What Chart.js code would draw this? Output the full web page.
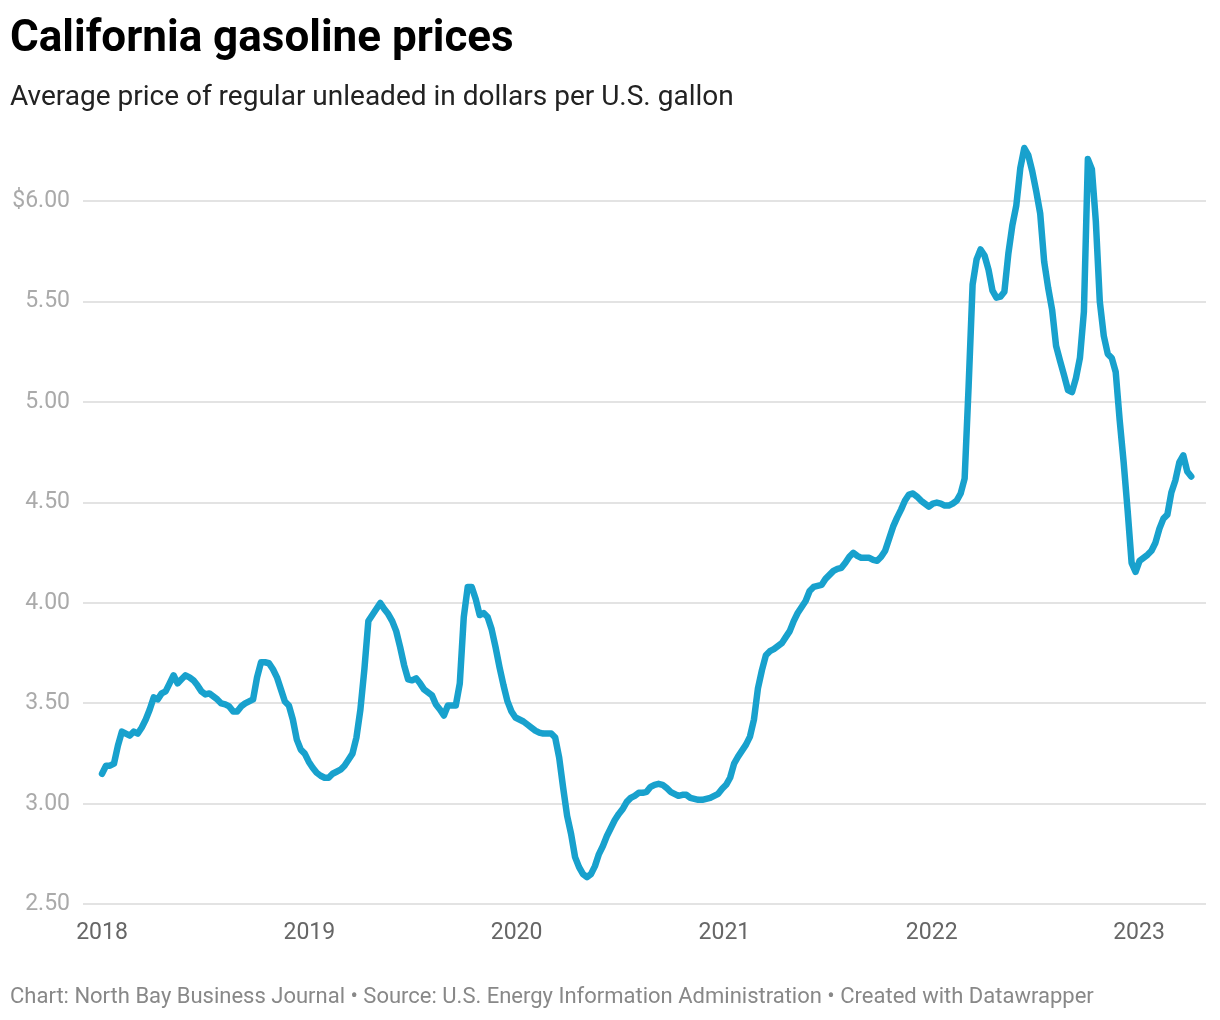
<!DOCTYPE html>
<html>
<head>
<meta charset="utf-8">
<script src="https://cdn.jsdelivr.net/npm/chart.js@4"></script>
<style>
  html, body { margin: 0; padding: 0; background: #fff; }
  body { width: 1220px; height: 1020px; position: relative; overflow: hidden; font-family: Roboto, "Noto Sans", sans-serif; }
  #title { position: absolute; left: 10px; top: 10px; font-size: 44px; font-weight: 700; color: #000; line-height: 1.2; white-space: nowrap; }
  #subtitle { position: absolute; left: 10px; top: 79px; font-size: 28px; color: #222; line-height: 1.2; white-space: nowrap; }
  #footer { position: absolute; left: 10px; top: 983px; font-size: 22px; color: #888; line-height: 1.2; white-space: nowrap; }
  #wrap { position: absolute; left: 0; top: 0; width: 1220px; height: 1020px; }
</style>
</head>
<body>
<div id="wrap"><canvas id="c" width="1220" height="1020"></canvas></div>
<div id="title">California gasoline prices</div>
<div id="subtitle">Average price of regular unleaded in dollars per U.S. gallon</div>
<div id="footer">Chart: North Bay Business Journal • Source: U.S. Energy Information Administration • Created with Datawrapper</div>
<script>
// Weekly series starting Monday, Jan 1, 2018
const startDate = "2018-01-01";
const prices = [
  3.15, 3.19, 3.19, 3.20, 3.29, 3.36, 3.35, 3.34, 3.36, 3.35,
  3.38, 3.42, 3.47, 3.53, 3.52, 3.55, 3.56, 3.60, 3.64, 3.60,
  3.62, 3.64, 3.63, 3.615, 3.59, 3.56, 3.545, 3.55, 3.535, 3.52,
  3.50, 3.495, 3.485, 3.46, 3.46, 3.485, 3.50, 3.51, 3.52, 3.63,
  3.705, 3.705, 3.70, 3.67, 3.63, 3.57, 3.51, 3.49, 3.42, 3.32,
  3.27, 3.25, 3.21, 3.18, 3.155, 3.14, 3.13, 3.13, 3.15, 3.16,
  3.17, 3.19, 3.22, 3.25, 3.33, 3.47, 3.67, 3.91, 3.94, 3.97,
  4.00, 3.97, 3.945, 3.91, 3.86, 3.78, 3.69, 3.62, 3.615, 3.625,
  3.60, 3.57, 3.555, 3.54, 3.495, 3.47, 3.44, 3.49, 3.49, 3.49,
  3.60, 3.93, 4.08, 4.08, 4.02, 3.94, 3.95, 3.93, 3.87, 3.78,
  3.68, 3.59, 3.51, 3.46, 3.43, 3.42, 3.41, 3.395, 3.38, 3.365,
  3.355, 3.35, 3.35, 3.35, 3.33, 3.23, 3.08, 2.94, 2.85, 2.735,
  2.685, 2.65, 2.635, 2.65, 2.69, 2.75, 2.79, 2.84, 2.88, 2.92,
  2.95, 2.975, 3.01, 3.03, 3.04, 3.055, 3.055, 3.06, 3.085, 3.095,
  3.10, 3.095, 3.08, 3.06, 3.05, 3.04, 3.045, 3.045, 3.03, 3.025,
  3.02, 3.02, 3.025, 3.03, 3.04, 3.05, 3.075, 3.095, 3.13, 3.20,
  3.235, 3.265, 3.295, 3.335, 3.42, 3.575, 3.665, 3.74, 3.76, 3.77,
  3.785, 3.80, 3.83, 3.86, 3.91, 3.95, 3.98, 4.01, 4.06, 4.08,
  4.085, 4.09, 4.12, 4.14, 4.16, 4.17, 4.175, 4.20, 4.23, 4.25,
  4.235, 4.225, 4.225, 4.225, 4.215, 4.21, 4.23, 4.26, 4.32, 4.38,
  4.425, 4.465, 4.51, 4.54, 4.545, 4.53, 4.51, 4.495, 4.48, 4.495,
  4.50, 4.495, 4.485, 4.485, 4.495, 4.51, 4.545, 4.62, 5.08, 5.585,
  5.71, 5.76, 5.73, 5.66, 5.555, 5.52, 5.525, 5.55, 5.74, 5.88,
  5.98, 6.165, 6.265, 6.23, 6.15, 6.05, 5.94, 5.70, 5.57, 5.46,
  5.28, 5.205, 5.135, 5.06, 5.05, 5.12, 5.22, 5.45, 6.21, 6.16,
  5.90, 5.50, 5.33, 5.24, 5.22, 5.15, 4.91, 4.70, 4.46, 4.20,
  4.155, 4.21, 4.225, 4.24, 4.26, 4.30, 4.37, 4.42, 4.44, 4.55,
  4.61, 4.70, 4.735, 4.655, 4.63
];
const yearTicks = [2018, 2019, 2020, 2021, 2022, 2023];
const priceTicks = [2.5, 3.0, 3.5, 4.0, 4.5, 5.0, 5.5, 6.0];

const DAY = 86400000;
const t0 = Date.parse(startDate + "T00:00:00Z");
const weekDates = prices.map((_, i) => new Date(t0 + i * 7 * DAY));
const points = prices.map((v, i) => ({ x: (weekDates[i].getTime() - t0) / DAY, y: v }));
const yearOffsets = yearTicks.map(y => (Date.UTC(y, 0, 1) - t0) / DAY);

new Chart(document.getElementById('c'), {
  type: 'line',
  data: {
    datasets: [{
      data: points,
      borderColor: '#18a1cd',
      borderWidth: 6.5,
      pointRadius: 0,
      tension: 0,
      borderJoinStyle: 'round',
      borderCapStyle: 'round',
      fill: false
    }]
  },
  options: {
    responsive: false,
    animation: false,
    events: [],
    layout: { padding: { left: 0, right: 14, top: 141, bottom: 65.7 } },
    plugins: { legend: { display: false }, tooltip: { enabled: false } },
    scales: {
      x: {
        type: 'linear',
        min: -33.5,
        max: 1944,
        afterBuildTicks: (s) => { s.ticks = yearOffsets.map(v => ({ value: v })); },
        afterFit: (s) => { s.height = 50; },
        grid: { display: false, drawTicks: false },
        border: { display: false },
        ticks: {
          autoSkip: false,
          maxRotation: 0,
          padding: 15,
          color: '#666',
          font: { family: 'Roboto', size: 23 },
          callback: (v) => { const k = yearOffsets.indexOf(v); return k >= 0 ? String(yearTicks[k]) : ''; }
        }
      },
      y: {
        type: 'linear',
        min: 2.5,
        max: 6.3,
        afterBuildTicks: (s) => { s.ticks = priceTicks.map(v => ({ value: v })); },
        afterFit: (s) => { s.width = 83; },
        grid: { color: '#e3e3e3', lineWidth: 2, drawTicks: false },
        border: { display: false },
        ticks: {
          padding: 13,
          color: '#aaa',
          font: { family: 'Roboto', size: 23 },
          callback: (v) => (v === 6 ? '$' : '') + v.toFixed(2)
        }
      }
    }
  }
});
</script>
</body>
</html>
